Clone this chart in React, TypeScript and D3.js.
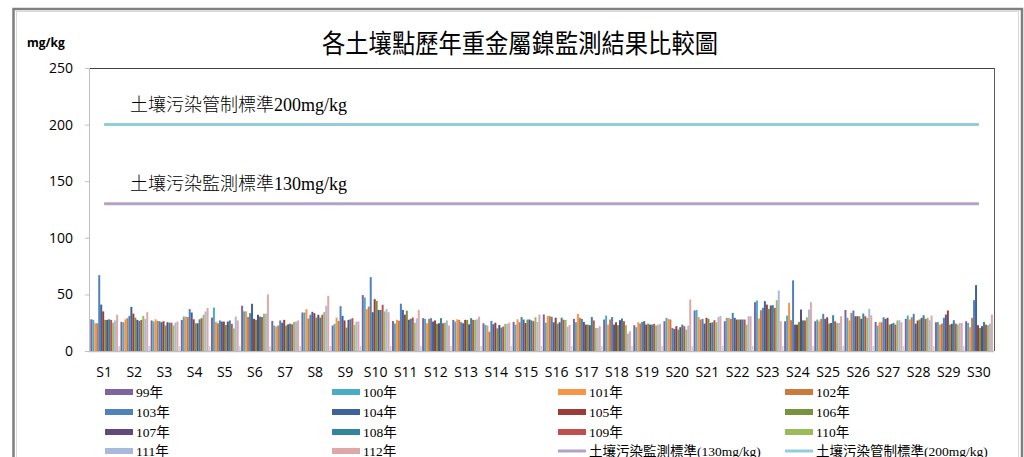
import React from 'react';
import * as d3 from 'd3';

const sites = ['S1','S2','S3','S4','S5','S6','S7','S8','S9','S10','S11','S12','S13','S14','S15','S16','S17','S18','S19','S20','S21','S22','S23','S24','S25','S26','S27','S28','S29','S30'];
const years = ['99年','100年','101年','102年','103年','104年','105年','106年','107年','108年','109年','110年','111年','112年'];
const colors = ['#8064A2','#4BACC6','#F79646','#CB7A3C','#4F81BD','#3D6299','#9C3B38','#77933C','#604A7B','#31859C','#C0504D','#9BBB59','#A9B9DC','#DDA8A7'];

const y99 = [28,25.7,27,27.5,29.5,40,26.6,34,22.5,49.4,26.5,29,27.5,24.5,25.7,32.3,28.4,27.8,22.8,26.3,35.8,26.3,43.1,26.3,26.3,36.3,25.7,28.4,25.4,26.3];
const y100 = [27.5,25.4,26,30.4,38.4,35,22.5,34,24,47.3,24.3,28.4,26,23,23.3,25,25.4,31.3,21,29.3,36.3,29.3,44.6,31.3,27.8,29.3,22.5,31.3,25.7,24.8];
const y101 = [24.5,28,28,30.4,25.7,35,21.6,37,29.5,37,27.6,24.5,28,22.5,28,31,32.8,23.3,25.4,28.4,30,29.3,28.7,42.6,26.3,27,25.4,27.8,23.3,21];
const y102 = [24.5,29,26.6,30,24.5,30,22.5,28.7,26.6,39.3,26.8,28.4,27.5,17,25.4,30.8,29.3,27.8,24.2,27.8,27.8,28.4,36,27.2,28.4,33.7,25.4,29.8,24.2,29.3];
const y103 = [67,31,26.3,37,27,33.4,27,32,39.6,65.3,41.8,29,25.4,26.6,30,30.2,28.4,30,25.7,20.4,28.4,33.7,38.1,62.4,32.8,35.8,29.8,32.8,29.3,44.9];
const y104 = [41,39,25.4,34,26,41.7,25,34.6,31,34.3,36.3,26,24.5,23.6,27.8,25.4,25.7,23.3,26.3,19.5,24.2,29.3,44,23.3,28.4,30.7,28.4,24.2,32.2,58.2];
const y105 = [35,33,26.3,28,26,28.4,27.5,33.4,27,45.8,32.1,27,27.5,25,24.8,29.4,23.3,25.4,23.3,21.9,29.3,27.8,41,23.3,29.8,30.7,29.3,27,35.8,22.8];
const y106 = [27.5,29.5,22.5,24.5,23,27.5,22.5,29.5,20.7,44.3,35.6,24,27.5,20,27.8,24.1,23.3,22.8,24.2,18.9,28.4,27.8,37.2,25.7,24.2,30.7,23.3,27.8,23.3,20.4];
const y107 = [27.5,27.5,25.4,24.5,26,32,23.6,32,27.5,36.3,27.6,24.5,23.6,23,27.8,25.4,22.8,27.2,23.3,21,24.8,27.8,40.2,36.6,24.8,28.4,24,29.3,24,21.9];
const y108 = [28,26.6,25,28,27,30.4,24.2,29.5,28,36.3,28.5,29,29,20.7,27,29.4,30,28.7,23.3,23.3,25.4,27.8,40.5,27,31.6,33.1,24.8,31.6,27.2,25.7];
const y109 = [27.5,27.5,25,29,24,30,23.6,32,29,40.8,29.6,24.5,27.5,21.6,26.3,27.6,27,26.3,24,21.9,27.2,27.8,38.1,27,26.3,30.7,23.3,28.4,24.2,23.3];
const y110 = [25,31,22.5,32,20,33,25.7,34.3,23,35,24.9,25,27.5,24,29.8,27.4,20.4,22.8,22.5,18.9,25.4,23.3,44.9,29.8,24.8,29.3,27,29.3,23.3,22.8];
const y111 = [27,28.4,25,35,30.4,33,26,40,26,37,28.8,27,28,24,25.7,21.4,20.4,15.4,23.3,22.5,30,30.7,53.5,36.6,24.8,37.2,27.2,27.2,24.8,24.2];
const y112 = [32,34.3,26,38,27,50,27,48.8,26,34.3,36.3,22.5,30.4,25,32.2,22.9,21.9,17.4,24,45.5,31,30.7,26.3,43.1,30.7,31.6,25.4,31.3,24.8,32.2];
const seriesValues = [y99,y100,y101,y102,y103,y104,y105,y106,y107,y108,y109,y110,y111,y112];

const yTicks = [0,50,100,150,200,250];
const stdMonitor = 130;
const stdControl = 200;
const stdMonitorLabel = '土壤污染監測標準130mg/kg';
const stdControlLabel = '土壤污染管制標準200mg/kg';
const stdMonitorLegend = '土壤污染監測標準(130mg/kg)';
const stdControlLegend = '土壤污染管制標準(200mg/kg)';
const title = '各土壤點歷年重金屬鎳監測結果比較圖';
const unit = 'mg/kg';

const monitorColor = '#B3A2C7';
const controlColor = '#93CDDD';

const serif = '"Liberation Serif", "Noto Sans CJK TC", serif';
const sans = '"Open Sans", "Noto Sans CJK TC", sans-serif';

export default function App() {
  const left = 89, right = 994, top = 68, bottom = 351;
  const x0 = d3.scaleBand<string>().domain(sites).range([left, right]).padding(0);
  const bw = x0.bandwidth();
  const x1 = d3.scaleBand<string>().domain(years).range([1.3, bw - 1.1]).padding(0);
  const y = d3.scaleLinear().domain([0, 250]).range([bottom, top]);

  const lineGen = d3.line<{ s: string; v: number }>()
    .x(d => (x0(d.s) as number) + bw / 2)
    .y(d => y(d.v));
  const monitorLine = lineGen(sites.map(s => ({ s, v: stdMonitor })));
  const controlLine = lineGen(sites.map(s => ({ s, v: stdControl })));

  const legendItems = [
    ...years.map((yr, i) => ({ label: yr, color: colors[i], type: 'bar' })),
    { label: stdMonitorLegend, color: monitorColor, type: 'line' },
    { label: stdControlLegend, color: controlColor, type: 'line' },
  ];
  const legCols = [105, 332, 558, 785];
  const legRows = [392, 412, 432, 451];

  return (
    <svg width={1024} height={457} style={{ position: 'absolute', left: 0, top: 0, background: '#fff' }}>
      <rect x={0} y={0} width={1024} height={457} fill="#fff" />
      {/* frame */}
      <rect x={13.5} y={9} width={1008.5} height={470} fill="none" stroke="#7f7f7f" strokeWidth={2.5} />
      <rect x={16.5} y={11.5} width={1002} height={470} fill="none" stroke="#d9d9d9" strokeWidth={1} />

      {/* title */}
      <text x={520} y={53} textAnchor="middle" fontFamily={sans} fontSize={26} fontWeight={400}
        textLength={396} lengthAdjust="spacingAndGlyphs" fill="#000">{title}</text>
      <text x={27} y={47} fontFamily={sans} fontSize={12} fontWeight={700} fill="#000">{unit}</text>

      {/* plot area border */}
      <line x1={left} x2={right} y1={top + 0.5} y2={top + 0.5} stroke="#404040" strokeWidth={1} />
      <line x1={right + 0.5} x2={right + 0.5} y1={top} y2={bottom} stroke="#595959" strokeWidth={1} />
      <line x1={left + 0.5} x2={left + 0.5} y1={top} y2={bottom} stroke="#bfbfbf" strokeWidth={1} />
      <line x1={left} x2={right} y1={bottom + 0.5} y2={bottom + 0.5} stroke="#bfbfbf" strokeWidth={1.5} />

      {/* y ticks */}
      {yTicks.map(t => (
        <g key={t}>
          <line x1={left - 4} x2={left} y1={y(t) + 0.5} y2={y(t) + 0.5} stroke="#bfbfbf" />
          <text x={73} y={y(t) + 5} textAnchor="end" fontFamily={sans} fontSize={14} fill="#000">{t}</text>
        </g>
      ))}

      {/* category ticks */}
      {sites.slice(1).map(s => (
        <line key={s} x1={(x0(s) as number)} x2={(x0(s) as number)} y1={bottom} y2={bottom - 5} stroke="#d0d0d0" strokeWidth={1.5} />
      ))}

      {/* bars */}
      {sites.map((s, si) => (
        <g key={s} transform={`translate(${x0(s)},0)`}>
          {years.map((yr, yi) => {
            const v = seriesValues[yi][si];
            return (
              <rect key={yr} x={x1(yr)} y={y(v)} width={x1.bandwidth()} height={bottom - y(v)} fill={colors[yi]} />
            );
          })}
        </g>
      ))}

      {/* standard lines */}
      <path d={controlLine || ''} stroke={controlColor} strokeWidth={3} fill="none" />
      <path d={monitorLine || ''} stroke={monitorColor} strokeWidth={3} fill="none" />
      <text x={130} y={y(stdControl) - 14} fontFamily={serif} fontSize={18} fontWeight={300} fill="#000">{stdControlLabel}</text>
      <text x={130} y={y(stdMonitor) - 14} fontFamily={serif} fontSize={18} fontWeight={300} fill="#000">{stdMonitorLabel}</text>

      {/* x labels */}
      {sites.map(s => (
        <text key={s} x={(x0(s) as number) + bw / 2} y={377} textAnchor="middle" fontFamily={sans} fontSize={14} fill="#000">{s}</text>
      ))}

      {/* legend */}
      {legendItems.map((it, i) => {
        const cx = legCols[i % 4];
        const cy = legRows[Math.floor(i / 4)];
        return (
          <g key={it.label}>
            {it.type === 'bar'
              ? <rect x={cx} y={cy - 3} width={28} height={6} fill={it.color} />
              : <line x1={cx} x2={cx + 28} y1={cy} y2={cy} stroke={it.color} strokeWidth={3} />}
            <text x={cx + 31} y={cy + 5} fontFamily={serif} fontSize={13.5} fill="#000">{it.label}</text>
          </g>
        );
      })}
    </svg>
  );
}
